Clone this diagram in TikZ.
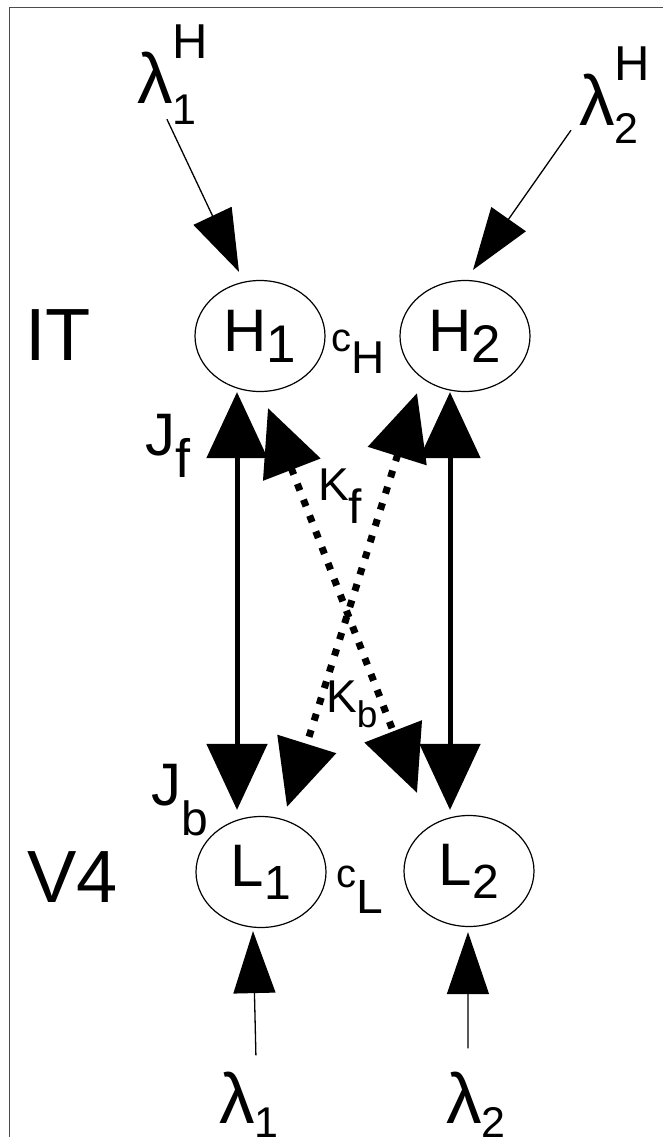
\documentclass[tikz,border=0pt]{standalone}
\usepackage{fontspec}
\setmainfont{Liberation Sans}
\usetikzlibrary{arrows.meta,shapes.geometric}
\newcommand{\fsz}[1]{\fontsize{#1}{#1}\selectfont}
\newcommand{\lowr}[3]{\raisebox{-#1pt}{\fsz{#2}#3}}
\newcommand{\uppr}[3]{\rlap{\raisebox{#1pt}{\fsz{#2}#3}}}

\begin{document}
\begin{tikzpicture}[x = 1pt, y = -1pt,
        unit/.style = {draw, ellipse, line width = 1.2pt, minimum width = 130pt,
            minimum height = 111pt, inner sep = 0pt, font = \fsz{60}},
        txt/.style = {anchor = base west, inner sep = 0pt},
        inarrow/.style = {line width = 1.3pt, -{Triangle[length = 62pt, width = 42pt]}},
        jarrow/.style = {line width = 5pt,
            {Triangle[length = 66pt, width = 60pt]}-{Triangle[length = 66pt, width = 60pt]}},
        karrow/.style = {jarrow, line width = 7pt, dash pattern = on 7pt off 10pt}]
            \useasboundingbox (0,0) rectangle (663,1137);
            \draw [line width = 1pt, black!70]
            (9,1137) -- (9,8) -- (663,8);
            
            \node[unit] (H1) at (260,336) {H\lowr{11}{53}{1}};
            \node[unit] (H2) at (465,336) {H\lowr{11}{53}{2}};
            \node[unit] (L1) at (261,872) {L\lowr{13}{48}{1}};
            \node[unit] (L2) at (469,871) {L\lowr{13}{48}{2}};
            
            \node[txt, font = \fsz{74}] (IT) at (25,360) {IT};
            \node[txt, font = \fsz{74}] (V4) at (27,902) {V4};
            \node[txt, font = \fsz{71}] (lamH1) at (137,103) {λ\uppr{44}{49}{H}\lowr{21}{43}{1}};
            \node[txt, font = \fsz{71}] (lamH2) at (579,125) {λ\uppr{45}{49}{H}\lowr{18}{43}{2}};
            \node[txt, font = \fsz{71}] (lam1) at (219,1123) {λ\lowr{14}{43}{1}};
            \node[txt, font = \fsz{71}] (lam2) at (446,1123) {λ\lowr{14}{43}{2}};
            
            \node[txt, font = \fsz{60}] (Jf) at (145,455) {J\lowr{22}{54}{f}};
            \node[txt, font = \fsz{60}] (Jb) at (151,805) {J\lowr{30}{48}{b}};
            \node[txt, font = \fsz{46}] (Kf) at (318,500) {K\lowr{23}{48}{f}};
            \node[txt, font = \fsz{46}] (Kb) at (326,712) {K\lowr{15}{37}{b}};
            \node[txt, font = \fsz{40}] (cH) at (331,351) {c\lowr{22}{46}{H}};
            \node[txt, font = \fsz{40}] (cL) at (336,887) {c\lowr{26}{48}{L}};
            
            \draw [inarrow]
            ([yshift = 5pt]lamH1.south) -- ([xshift = -21pt, yshift = 8pt]H1.north);
            \draw [inarrow]
            ([xshift = -8pt, yshift = 13pt]lamH2.south west) -- ([xshift = 8pt, yshift = 10pt]H2.north);
            \draw [inarrow]
            ([xshift = 7pt, yshift = 16pt]lam1.north) -- ([xshift = -8pt, yshift = -3pt]L1.south);
            \draw [inarrow]
            ([xshift = -8pt, yshift = 23pt]lam2.north) -- ([xshift = -1pt, yshift = -5pt]L2.south);
            
            \draw [jarrow]
            ([xshift = -23pt]H1.south) -- ([xshift = -24pt, yshift = 6pt]L1.north);
            \draw [jarrow]
            ([xshift = -15pt]H2.south) -- ([xshift = -19pt, yshift = 5pt]L2.north);
            
            \draw [karrow]
            ([xshift = 8pt, yshift = -16pt]H1.south) -- ([xshift = -52pt, yshift = 22pt]L2.north);
            \draw [karrow]
            ([xshift = -48pt, yshift = -1pt]H2.south) -- ([xshift = 26pt, yshift = 9pt]L1.north);
        \end{tikzpicture}
\end{document}
